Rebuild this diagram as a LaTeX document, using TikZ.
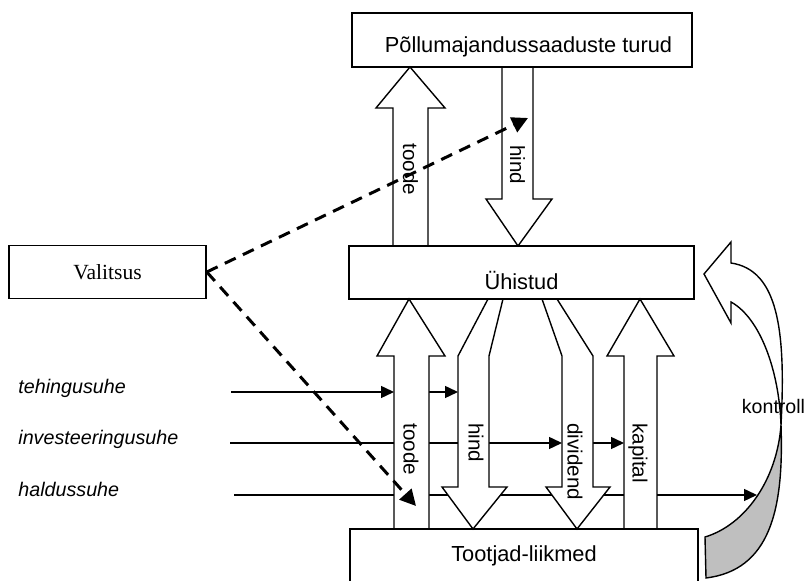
\documentclass[tikz,border=0pt]{standalone}
\usepackage{fontspec}
\setmainfont{Liberation Sans}
\newfontfamily\valfont{Liberation Serif}
\usetikzlibrary{arrows.meta}

\tikzset{
  box/.style={rectangle, draw, line width=0.8pt, inner sep=0pt, font=\fontsize{10.9}{13}\selectfont},
  blockarrow/.style={draw, fill=white, line width=0.7pt},
  flowlabel/.style={rotate=-90, anchor=west, inner sep=0pt, font=\fontsize{10.3}{12}\selectfont},
  relation/.style={anchor=base west, inner sep=0pt, font=\fontsize{9.85}{12}\selectfont\itshape},
  relline/.style={line width=0.7pt},
  relarrow/.style={line width=0.7pt, -{Triangle[length=6.5pt,width=6pt]}},
  govarrow/.style={line width=1.5pt, dash pattern=on 6pt off 4pt, -{Triangle[length=8pt,width=8pt]}},
  ribbon/.style={draw, line width=0.7pt, line join=miter}
}

\begin{document}
\begin{tikzpicture}[x=0.5pt, y=-0.5pt]
			\clip (0,0) rectangle (808,581);
			
			% relations
			\node[relation] (teh) at (18,394) {tehingusuhe};
			\node[relation] (inv) at (18,445) {investeeringusuhe};
			\node[relation] (hald) at (18,497) {haldussuhe};
			\coordinate (teh-s) at (231,392);
			\coordinate (inv-s) at (230,443);
			\coordinate (hald-s) at (234,495);
			\coordinate (toode-w) at (394,529);
			\coordinate (toode-e) at (429,529);
			\coordinate (hind-w) at (458,487);
			\coordinate (hind-e) at (489,487);
			\coordinate (div-w) at (562,487);
			\coordinate (div-e) at (593,487);
			\coordinate (kap-w) at (624,529);
			\coordinate (kap-e) at (657,529);
			\coordinate (kontroll-in) at (757,495);
			
			\draw[relarrow] (teh-s) -- (teh-s -| toode-w);
			\draw[relarrow] (teh-s -| toode-e) -- (teh-s -| hind-w);
			\draw[relline] (inv-s) -- (inv-s -| hind-e);
			\draw[relarrow] (inv-s -| hind-e) -- (inv-s -| div-w);
			\draw[relarrow] (inv-s -| div-e) -- (inv-s -| kap-w);
			\draw[relline] (hald-s) -- (hald-s -| kap-w);
			
			% flows
			\draw[blockarrow] (393,246) -- (393,108) -- (376,108) -- (410,67) -- (445,108) -- (428,108) -- (428,246);
			\draw[blockarrow] (502,67) -- (502,199) -- (486,199) -- (518,246) -- (552,199) -- (533,199) -- (533,67);
			\draw[blockarrow] (394,529) -- (394,356) -- (377,356) -- (409,299) -- (445,356) -- (429,356) -- (429,529);
			\draw[blockarrow] (488,299) -- (458,356) -- (458,487) -- (442,487) -- (473,529) -- (507,487) -- (489,487) -- (489,356) -- (503,299);
			\draw[blockarrow] (542,299) -- (562,356) -- (562,487) -- (546,487) -- (577,529) -- (610,487) -- (593,487) -- (593,356) -- (557,299);
			\draw[blockarrow] (624,529) -- (624,356) -- (607,356) -- (640,299) -- (674,356) -- (657,356) -- (657,529);
			
			\node[flowlabel] (toode1) at (410.5,143) {toode};
			\node[flowlabel] (hind1) at (517.5,145) {hind};
			\node[flowlabel] (toode2) at (411,423) {toode};
			\node[flowlabel] (hind2) at (476,423) {hind};
			\node[flowlabel] (dividend) at (575,423) {dividend};
			\node[flowlabel] (kapital) at (638,423) {kapital};
			
			% boxes
			\node[box, minimum width=170pt, minimum height=27pt, text height=13pt, text depth=0pt] (turud) at (522,40) {\hspace{6.5pt}Põllumajandussaaduste turud};
			\node[box, minimum width=172.5pt, minimum height=26.5pt, text height=17.5pt, text depth=0pt] (uhistud) at (521.5,272.5) {Ühistud};
			\node[box, minimum width=174pt, minimum height=32.5pt, text height=6pt, text depth=6pt] (tootjad) at (524,561.5) {Tootjad-liikmed\hspace{7.5pt}};
			\node[box, minimum width=98.5pt, minimum height=26.5pt, text height=10pt, text depth=2.5pt, font=\fontsize{10.8}{13}\valfont] (valitsus) at (107.5,272) {Valitsus\hspace{17pt}};
			
			% government
			\coordinate (hinnamoju) at (528,118);
			\coordinate (haldusmoju) at (416,506);
			\draw[govarrow] (valitsus.east) -- (hinnamoju);
			\draw[govarrow] (valitsus.east) -- (haldusmoju);
			
			% control
			\draw[ribbon, fill=white] (781,425) .. controls (786,330) and (778,270) .. (731,263) -- (731,242) -- (704,274) -- (731,323) -- (731,302) .. controls (760,318) and (779,370) .. (781,425) -- cycle;
			\draw[ribbon, fill=black!25] (781,425) .. controls (784,510) and (770,570) .. (706,578) -- (705,537) .. controls (745,525) and (777,480) .. (781,425) -- cycle;
			\draw[relarrow] (hald-s -| kap-e) -- (kontroll-in);
			\node[inner sep=0pt, font=\fontsize{9.8}{12}\selectfont] (kontroll) at (773.5,406) {kontroll};
		\end{tikzpicture}
\end{document}
